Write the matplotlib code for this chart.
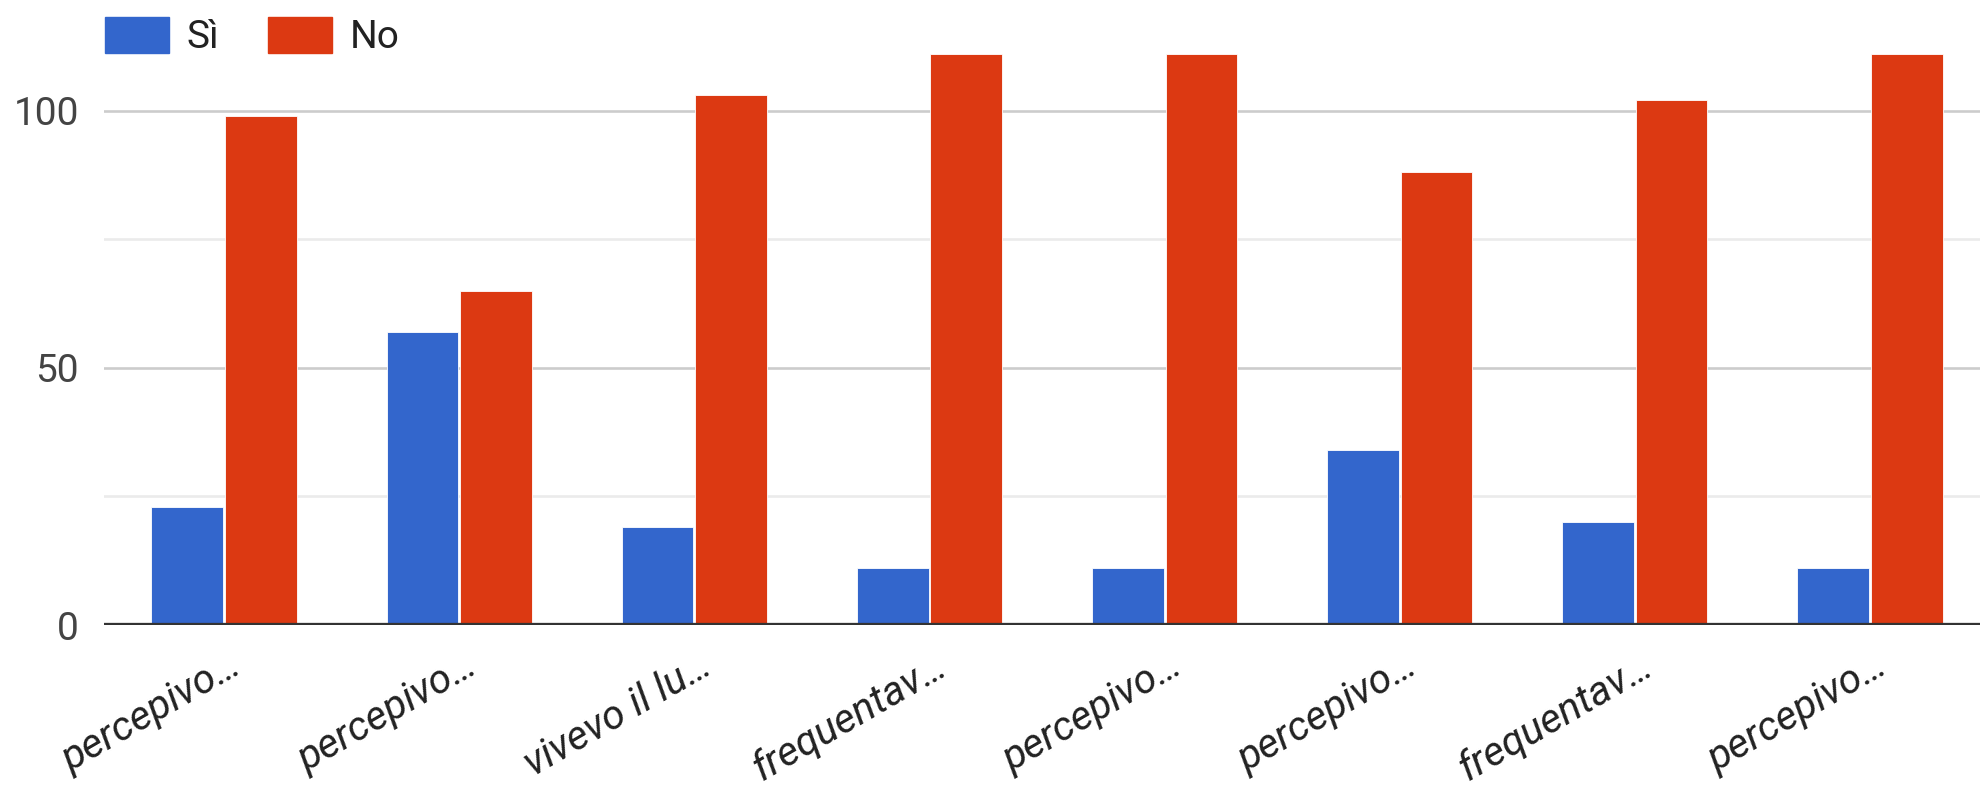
import matplotlib
matplotlib.use("Agg")
import matplotlib.pyplot as plt
import matplotlib.transforms as mtransforms
from matplotlib.patches import Patch
import numpy as np

categories = ["percepivo…", "percepivo…", "vivevo il lu…", "frequentav…",
              "percepivo…", "percepivo…", "frequentav…", "percepivo…"]
si_values = [23, 57, 19, 11, 11, 34, 20, 11]
no_values = [99, 65, 103, 111, 111, 88, 102, 111]
series_names = ["Sì", "No"]
y_ticks = [0, 50, 100]

BLUE = "#3366cc"
RED = "#dc3912"

plt.rcParams['font.family'] = ['Roboto', 'DejaVu Sans']

W, H = 1981, 787
fig = plt.figure(figsize=(W / 100, H / 100), dpi=100)

# axes placement in pixels
left_px, right_px = 104, 1981
bottom_px, top_px = 625, 30
ax = fig.add_axes([left_px / W, (H - bottom_px) / H,
                   (right_px - left_px) / W, (bottom_px - top_px) / H])

x = np.arange(len(categories))
bw = 0.305
ax.bar(x - 0.158, si_values, width=bw, color=BLUE, edgecolor="white", linewidth=0.6, zorder=3, label=series_names[0])
ax.bar(x + 0.155, no_values, width=bw, color=RED, edgecolor="white", linewidth=0.6, zorder=3, label=series_names[1])

ax.set_xlim(-0.5125, 7.471)
ax.set_ylim(0, (bottom_px - top_px) / 5.145)

for s in ["top", "right", "left", "bottom"]:
    ax.spines[s].set_visible(False)
ax.axhline(0, color="#333333", linewidth=3.8, zorder=4)

ax.set_yticks(y_ticks)
ax.set_yticks([25, 75], minor=True)
ax.yaxis.grid(True, which="major", color="#cccccc", linewidth=1.9, zorder=0)
ax.yaxis.grid(True, which="minor", color="#ebebeb", linewidth=1.9, zorder=0)
ax.tick_params(axis="y", which="both", length=0, pad=18, labelsize=28, labelcolor="#444444")

ax.set_xticks(x)
ax.set_xticklabels(categories, rotation=30, ha="right", va="center",
                   rotation_mode="anchor", fontsize=29.5, style="italic", color="#222222")
ax.tick_params(axis="x", length=0, pad=27)
offset = mtransforms.ScaledTranslation(14 / 100, 0, fig.dpi_scale_trans)
for lab in ax.get_xticklabels():
    lab.set_transform(lab.get_transform() + offset)

handles = [Patch(facecolor=BLUE, edgecolor=BLUE), Patch(facecolor=RED, edgecolor=RED)]
leg = fig.legend(handles, series_names, loc="upper left",
                 bbox_to_anchor=(105 / W, 1 - 16.5 / H), ncol=2, frameon=False,
                 fontsize=28, borderaxespad=0, borderpad=0,
                 handlelength=1.65, handleheight=1.05, handletextpad=0.45,
                 columnspacing=1.25)
for t in leg.get_texts():
    t.set_color("#222222")

fig.savefig("out.png", dpi=100, facecolor="white")
